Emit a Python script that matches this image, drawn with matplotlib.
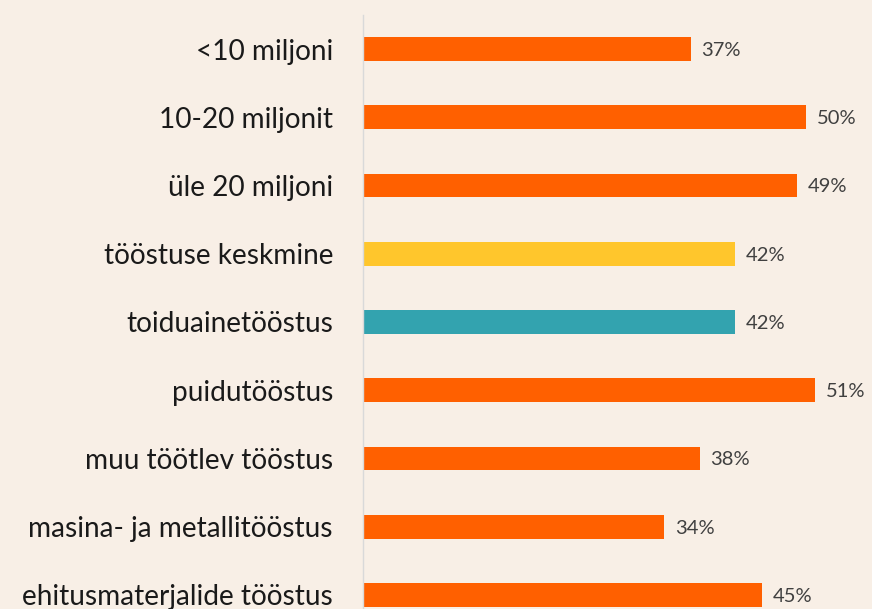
import matplotlib
matplotlib.use("Agg")
import matplotlib.pyplot as plt

categories = ["<10 miljoni", "10-20 miljonit", "üle 20 miljoni", "tööstuse keskmine",
              "toiduainetööstus", "puidutööstus", "muu töötlev tööstus",
              "masina- ja metallitööstus", "ehitusmaterjalide tööstus"]
values = [37, 50, 49, 42, 42, 51, 38, 34, 45]
colors = ["#FF6000", "#FF6000", "#FF6000", "#FFC62C", "#33A3AF",
          "#FF6000", "#FF6000", "#FF6000", "#FF6000"]

bg = "#F8EFE6"
W, H = 872, 609
fig = plt.figure(figsize=(W/100, H/100), dpi=100, facecolor=bg)
left = 363 / W
top_px, bot_px = 15, 629
ax = fig.add_axes([left, (H - bot_px) / H, 1 - left, (bot_px - top_px) / H])
ax.set_facecolor(bg)

pos = list(range(len(categories)))
ax.barh(pos, values, height=0.35, color=colors)
ax.set_ylim(len(categories) - 0.5, -0.5)
ax.set_xlim(0, 509 / 8.86)

for p, v in zip(pos, values):
    ax.text(v + 1.2, p + 0.02, f"{v}%", va="center", ha="left", fontsize=14.5,
            color="#404040", family="Lato")

ax.set_yticks(pos)
ax.set_yticklabels(categories, fontsize=20.2, color="#1a1a1a", family="Lato")
ax.tick_params(axis="y", length=0, pad=21.6)
ax.set_xticks([])
for s in ["top", "right", "bottom"]:
    ax.spines[s].set_visible(False)
ax.spines["left"].set_color("#D9D9D9")
ax.spines["left"].set_linewidth(1.0)

fig.savefig("out.png", dpi=100, facecolor=bg)
